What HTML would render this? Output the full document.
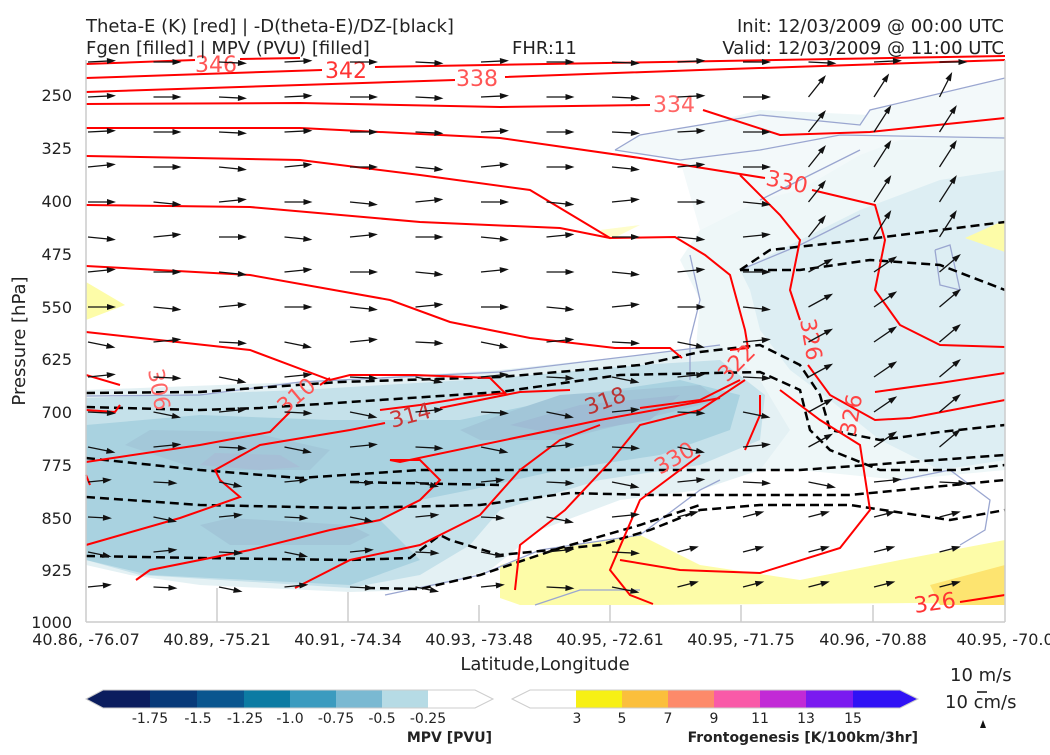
<!DOCTYPE html><html><head><meta charset="utf-8"><style>
body{margin:0;background:#fff;width:1050px;height:750px;overflow:hidden;font-family:"Liberation Sans","DejaVu Sans",sans-serif}
</style></head><body>
<svg id="s" width="1050" height="750" xmlns="http://www.w3.org/2000/svg" font-family="DejaVu Sans, Liberation Sans, sans-serif">
<rect width="1050" height="750" fill="#fff"/>
<g stroke="#ccc" stroke-width="1.5">
<line x1="217" y1="588" x2="217" y2="622"/><line x1="348" y1="592" x2="348" y2="622"/><line x1="479" y1="605" x2="479" y2="622"/><line x1="610" y1="605" x2="610" y2="622"/><line x1="741" y1="605" x2="741" y2="622"/><line x1="873" y1="605" x2="873" y2="622"/>
</g>
<!-- fills -->
<polygon fill="#eef7f8" points="615,150 700,125 760,110 870,115 1005,100 1005,470 900,480 800,470 700,470 690,420 700,300 680,260 700,230 760,200 820,170 850,150 740,160" />
<polygon fill="#f3f9fa" points="615,150 640,135 760,115 860,125 870,110 1005,78 1005,135 900,140 860,155 800,190 760,200 700,230 680,160"/>
<polygon fill="#ddeef3" points="740,270 800,240 860,210 940,180 1005,170 1005,460 940,470 880,440 830,400 790,370 760,330 750,290"/>
<polygon fill="#e4f1f4" points="86,390 300,382 500,370 640,355 720,345 760,380 790,430 760,470 700,490 620,500 540,530 490,570 420,590 350,592 200,585 130,575 86,565"/>
<polygon fill="#c5e1ea" points="86,398 300,390 500,378 640,365 720,360 765,395 760,440 700,465 600,480 500,510 470,545 420,575 350,588 140,575 86,560"/>
<polygon fill="#a9d2e0" points="86,425 200,415 330,420 460,420 580,395 680,380 740,395 730,430 660,455 560,470 470,490 420,500 380,520 420,560 350,585 150,575 86,560"/>
<polygon fill="#a2c6d8" points="125,445 150,430 250,432 330,450 310,470 200,470" opacity=".9"/>
<polygon fill="#a6bfd6" points="200,465 215,453 280,455 300,467 260,470" />
<polygon fill="#a2c6d8" points="460,430 500,415 560,395 700,385 720,400 640,420 560,440 480,440"/>
<polygon fill="#9fbcd4" points="510,425 580,405 680,395 650,420 560,435"/>
<polygon fill="#a2c6d8" points="200,525 230,518 350,525 370,535 350,545 230,545"/>
<polygon fill="#fdfca8" points="500,565 560,548 640,535 700,565 800,580 900,560 1005,540 1005,605 920,603 640,605 520,605 500,598"/>
<polygon fill="#fde470" points="930,585 1005,565 1005,605 940,605"/>
<polygon fill="#fdfca8" points="86,282 125,305 86,320"/>
<polygon fill="#fdfca8" points="965,238 1005,220 1005,252"/>
<polygon fill="#fdfca8" points="600,230 640,225 610,240" opacity=".6"/>
<!-- blue-grey thin contours -->
<g fill="none" stroke="#9aa6d0" stroke-width="1.3">
<polyline points="86,396 200,395 300,382 500,372 640,355 720,345"/>
<polyline points="615,150 640,135 760,115 860,125 870,110 1005,78"/>
<polyline points="615,150 680,160 760,150 840,135 1005,138"/>
<polyline points="385,595 480,575 540,550 640,535 700,490 720,480"/>
<polyline points="535,605 580,590 640,590"/>
<polyline points="690,255 700,300 690,340 690,380"/>
<polyline points="760,200 820,170 860,150"/>
<polyline points="935,250 950,245 960,290 940,285 935,250"/>
<polyline points="900,480 950,470 990,500 985,530 960,545"/>
<polyline points="740,270 800,245 860,215"/>
</g>
<!-- dashed black -->
<g fill="none" stroke="#000" stroke-width="2.5" stroke-dasharray="9,5">
<polyline points="86,393 200,392 340,382 500,377 640,365 700,352 760,345 800,365 820,395 830,430 880,440 940,432 1005,425"/>
<polyline points="86,407 200,410 260,408 350,402 500,392 620,375 760,372 800,390 810,430 830,450 880,470 960,470 1005,465"/>
<polyline points="86,458 200,470 300,478 420,470 550,470 700,470 800,470 1005,455"/>
<polyline points="86,497 200,505 350,508 480,505 570,493 650,495 750,495 850,495 1005,480"/>
<polyline points="86,556 200,558 350,560 410,558 440,535 450,540 500,555 600,545 650,530 700,510 760,505 850,505 950,520 1005,510"/>
<polyline points="366,588 420,589 480,575 560,548 640,525 700,505"/>
<polyline points="740,270 770,250 860,240 940,230 1005,222"/>
<polyline points="740,270 800,270 870,260 940,265 1005,290"/>
<polyline points="350,482 500,485"/>
</g>
<!-- red contours -->
<g fill="none" stroke="#f00" stroke-width="2">
<polyline points="86,64 195,60"/><polyline points="240,59 300,58"/>
<polyline points="86,78 322,70"/><polyline points="375,67 1005,56"/>
<polyline points="86,92 455,80"/><polyline points="505,77 700,70 1005,60"/>
<polyline points="86,104 300,103 500,107 650,105"/><polyline points="703,110 780,135 870,132 1005,118"/>
<polyline points="86,128 300,128 500,138 640,158 765,178"/><polyline points="812,190 875,205 885,240 875,290 900,325 940,345 1005,347"/>
<polyline points="86,156 300,160 420,175 530,190 610,238 675,237 705,255 730,275 745,330 748,348 730,350"/>
<polyline points="740,175 780,215 800,240 790,290 800,320"/>
<polyline points="86,205 250,207 420,222 560,228 610,238"/>
<polyline points="808,365 830,395 875,420 910,418 1005,400"/>
<polyline points="875,392 940,383 1005,373"/>
<polyline points="86,266 250,275 390,300 450,322 530,338 615,348 670,348 682,358"/>
<polyline points="86,332 250,350 330,380 350,375 415,375 490,378 505,393 470,397 420,405 380,410"/>
<polyline points="86,375 120,385"/>
<polyline points="86,410 115,412 120,405"/>
<polyline points="86,462 200,445 270,432 290,412"/><polyline points="320,385 330,378"/>
<polyline points="86,545 180,518 240,497 220,480 215,470 260,445 350,430 385,423"/><polyline points="440,408 520,392 570,390"/>
<polyline points="136,580 150,570 250,550 330,530 380,520 420,500 440,480 420,460 390,460 400,462 600,420 720,398"/>
<polyline points="295,588 350,560 420,545 480,515 520,470 560,440 600,425"/><polyline points="640,408 700,400 740,380"/>
<polyline points="515,590 520,545 565,510 610,462 640,425 700,410 745,380"/>
<polyline points="653,604 630,595 610,570 640,500 700,455"/>
<polyline points="620,560 680,570 760,573 840,548 870,510 860,445 820,420 780,390"/>
<polyline points="760,415 760,395"/>
<polyline points="745,450 760,415"/>
<polyline points="960,602 1005,595"/>
<polyline points="86,475 90,485"/>
</g>
<!-- contour labels -->
<g fill="#f55" font-size="22">
<text x="195" y="72">346</text>
<text x="325" y="78" fill="#f33">342</text>
<text x="456" y="86" fill="#f55">338</text>
<text x="653" y="112" fill="#f66">334</text>
<text x="766" y="190" fill="#f44" transform="rotate(12 790 182)">330</text>
<text x="0" y="0" fill="#f44" transform="translate(800,320) rotate(80)">326</text>
<text x="0" y="0" fill="#f66" transform="translate(148,370) rotate(80)">306</text>
<text x="0" y="0" fill="#f55" transform="translate(285,415) rotate(-40)">310</text>
<text x="0" y="0" fill="#c33" transform="translate(392,428) rotate(-15)">314</text>
<text x="0" y="0" fill="#b33" transform="translate(588,415) rotate(-20)">318</text>
<text x="0" y="0" fill="#f44" transform="translate(727,383) rotate(-45)">322</text>
<text x="0" y="0" fill="#f55" transform="translate(660,475) rotate(-30)">330</text>
<text x="0" y="0" fill="#f44" transform="translate(855,437) rotate(-80)">326</text>
<text x="0" y="0" fill="#f33" transform="translate(915,613) rotate(-8)">326</text>
</g>
<g id="arr" stroke="#111" fill="#111"></g>
<!-- axes -->
<g font-size="16" fill="#222" text-anchor="end">
<text x="72" y="101">250</text><text x="72" y="154">325</text><text x="72" y="207">400</text><text x="72" y="260">475</text><text x="72" y="313">550</text><text x="72" y="365">625</text><text x="72" y="418">700</text><text x="72" y="471">775</text><text x="72" y="524">850</text><text x="72" y="576">925</text><text x="72" y="628">1000</text>
</g>
<g stroke="#ccc" stroke-width="1.5"><line x1="86" y1="60" x2="86" y2="622"/><line x1="1005" y1="60" x2="1005" y2="622"/><line x1="86" y1="622" x2="1005" y2="622"/></g>
<g font-size="16" fill="#222" text-anchor="middle">
<text x="86" y="645">40.86, -76.07</text><text x="217" y="645">40.89, -75.21</text><text x="348" y="645">40.91, -74.34</text><text x="479" y="645">40.93, -73.48</text><text x="610" y="645">40.95, -72.61</text><text x="741" y="645">40.95, -71.75</text><text x="873" y="645">40.96, -70.88</text><text x="1005" y="645">40.95, -70.0</text>
<text x="545" y="670" font-size="18">Latitude,Longitude</text>
<text x="0" y="0" font-size="18" transform="translate(25,341) rotate(-90)">Pressure [hPa]</text>
</g>
<g font-size="18" fill="#222">
<text x="86" y="32">Theta-E (K) [red] | -D(theta-E)/DZ-[black]</text>
<text x="86" y="54">Fgen [filled] | MPV (PVU) [filled]</text>
<text x="512" y="54">FHR:11</text>
<text x="1004" y="32" text-anchor="end">Init: 12/03/2009 @ 00:00 UTC</text>
<text x="1004" y="54" text-anchor="end">Valid: 12/03/2009 @ 11:00 UTC</text>
<text x="950" y="681">10 m/s</text>
<text x="945" y="708">10 cm/s</text>
</g>
<line x1="977" y1="692" x2="987" y2="692" stroke="#111" stroke-width="1.5"/>
<polygon points="980,728 983,720 986,728" fill="#111"/>
<!-- colorbar left -->
<g stroke="none">
<polygon points="86,699 103,690 103,708" fill="#0b1d5e"/>
<rect x="103" y="690" width="47" height="18" fill="#0b1d5e"/>
<rect x="150" y="690" width="47" height="18" fill="#083a79"/>
<rect x="197" y="690" width="47" height="18" fill="#0a568f"/>
<rect x="244" y="690" width="46" height="18" fill="#0c7ba3"/>
<rect x="290" y="690" width="46" height="18" fill="#3b9bbf"/>
<rect x="336" y="690" width="46" height="18" fill="#7ab9d2"/>
<rect x="382" y="690" width="46" height="18" fill="#b6dbe5"/>
</g>
<polygon points="86,699 103,690 475,690 493,699 475,708 103,708" fill="none" stroke="#ccc"/>
<g font-size="14" fill="#222" text-anchor="middle">
<text x="150" y="723">-1.75</text><text x="198" y="723">-1.5</text><text x="245" y="723">-1.25</text><text x="290" y="723">-1.0</text><text x="336" y="723">-0.75</text><text x="382" y="723">-0.5</text><text x="428" y="723">-0.25</text>
</g>
<text x="492" y="742" font-size="14" font-weight="bold" text-anchor="end" fill="#222">MPV [PVU]</text>
<!-- colorbar right -->
<g>
<rect x="576" y="690" width="46" height="18" fill="#f7f015"/>
<rect x="622" y="690" width="46" height="18" fill="#fbbf3c"/>
<rect x="668" y="690" width="46" height="18" fill="#fd8a6a"/>
<rect x="714" y="690" width="46" height="18" fill="#f95aa8"/>
<rect x="760" y="690" width="46" height="18" fill="#c22ad6"/>
<rect x="806" y="690" width="47" height="18" fill="#7a1af0"/>
<rect x="853" y="690" width="47" height="18" fill="#3012f5"/>
<polygon points="900,690 918,699 900,708" fill="#3012f5"/>
</g>
<polygon points="512,699 530,690 900,690 918,699 900,708 530,708" fill="none" stroke="#ccc"/>
<g font-size="14" fill="#222" text-anchor="middle">
<text x="577" y="723">3</text><text x="622" y="723">5</text><text x="668" y="723">7</text><text x="714" y="723">9</text><text x="760" y="723">11</text><text x="806" y="723">13</text><text x="853" y="723">15</text>
</g>
<text x="918" y="742" font-size="14" font-weight="bold" text-anchor="end" fill="#222">Frontogenesis [K/100km/3hr]</text>
</svg>
<script>
(function(){
var g=document.getElementById('arr'),h='';
for(var r=0;r<16;r++){var y=62+r*35;
 for(var c=0;c<14;c++){var x=88+c*65.5;
  var L=28,a=0;
  if(r<3)a=-0.05+(c%3)*0.05;
  else if(r<8)a=0.1*((c+r)%3-1);
  else a=0.15*((c+r)%3-1)+0.05;
  if(c>=11&&r>=1&&r<12){a=-0.5-(r<6?0.4:0)+(c-11)*-0.1;}
  if(c>=12&&r>=2&&r<=5){a=-1.0;L=32}
  if(r>=13&&c>=9){a=-0.25;L=22}
  if(r>=12&&c<7){L=24}
  var dx=L*Math.cos(a),dy=L*Math.sin(a),x2=x+dx,y2=y+dy;
  var ux=dx/L,uy=dy/L,hx=x2-ux*9,hy=y2-uy*9;
  h+='<line x1="'+x+'" y1="'+y+'" x2="'+(x2-ux*4)+'" y2="'+(y2-uy*4)+'" stroke-width="1.3"/>';
  h+='<polygon stroke="none" points="'+x2+','+y2+' '+(hx-uy*3)+','+(hy+ux*3)+' '+(hx+uy*3)+','+(hy-ux*3)+'"/>';
 }}
g.innerHTML=h;
})();
</script>
</body></html>
